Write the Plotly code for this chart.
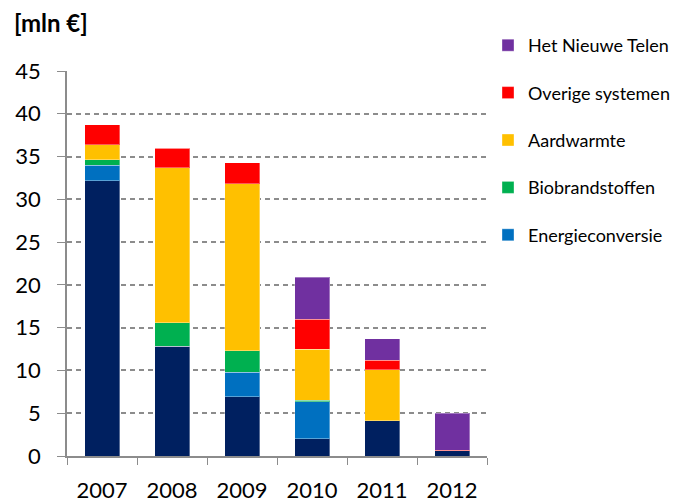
import plotly.graph_objects as go

years = ["2007", "2008", "2009", "2010", "2011", "2012"]
basis = [32.2, 12.8, 6.9, 2.0, 4.1, 0.6]
energieconversie = [1.8, 0.0, 2.9, 4.35, 0.0, 0.0]
biobrandstoffen = [0.6, 2.8, 2.5, 0.15, 0.0, 0.0]
aardwarmte = [1.8, 18.1, 19.5, 6.0, 6.0, 0.0]
overige = [2.3, 2.3, 2.5, 3.5, 1.1, 0.1]
nieuwe_telen = [0.0, 0.0, 0.0, 4.9, 2.5, 4.3]

series = [
    ("Basis", basis, "#002060", False),
    ("Energieconversie", energieconversie, "#0070C0", True),
    ("Biobrandstoffen", biobrandstoffen, "#00B050", True),
    ("Aardwarmte", aardwarmte, "#FFC000", True),
    ("Overige systemen", overige, "#FF0000", True),
    ("Het Nieuwe Telen", nieuwe_telen, "#7030A0", True),
]

fig = go.Figure()
n = len(series)
for i, (name, vals, color, show) in enumerate(series):
    fig.add_trace(go.Bar(
        x=years, y=vals, name=name, showlegend=show, legendgroup=name,
        legendrank=1000 + (n - i),
        marker=dict(color=color, line=dict(color="rgba(255,255,255,0.35)", width=1)),
    ))

# page body has an 8px margin; compensate so the plot lands where intended
OFF = 8
W, H = 681 - OFF, 502 - OFF
L, T = 67 - OFF, 71 - OFF
R = W - (487 - OFF)
B = H - (456 - OFF)
PW = W - L - R
PH = H - T - B

def px_x(x):
    return (x - OFF - L) / PW

def px_y(y):
    return (H - B - (y - OFF)) / PH

font = "Lato, 'Liberation Sans', sans-serif"
fig.update_layout(
    barmode="stack",
    bargap=0.5,
    width=W, height=H,
    margin=dict(l=L, r=R, t=T, b=B, autoexpand=False),
    plot_bgcolor="white", paper_bgcolor="white",
    font=dict(family=font, color="black"),
    showlegend=True,
    legend=dict(
        traceorder="grouped", tracegroupgap=21,
        x=px_x(488), xanchor="left", y=px_y(27), yanchor="top",
        font=dict(size=18, family=font), itemwidth=30,
        bgcolor="rgba(0,0,0,0)",
    ),
    annotations=[dict(
        text="<b>[mln €]</b>", x=px_x(12), y=px_y(23),
        xref="paper", yref="paper",
        showarrow=False, font=dict(size=24, family=font), xanchor="left", yanchor="middle",
    )],
)

fig.update_xaxes(
    showline=True, linecolor="#8c8c8c", linewidth=1.5,
    ticks="outside", tickson="boundaries", ticklen=7, tickcolor="#8c8c8c",
    tickfont=dict(size=22, family=font), showgrid=False, ticklabelstandoff=14,
)
fig.update_yaxes(
    range=[0, 45], dtick=5, showline=True, linecolor="#8c8c8c", linewidth=1.5,
    ticks="outside", ticklen=8, tickcolor="#8c8c8c",
    showgrid=True, gridcolor="#8c8c8c", griddash="5px,4px", gridwidth=1.6,
    tickfont=dict(size=22, family=font), zeroline=False, ticklabelstandoff=12,
)

fig.write_html("out.html")
